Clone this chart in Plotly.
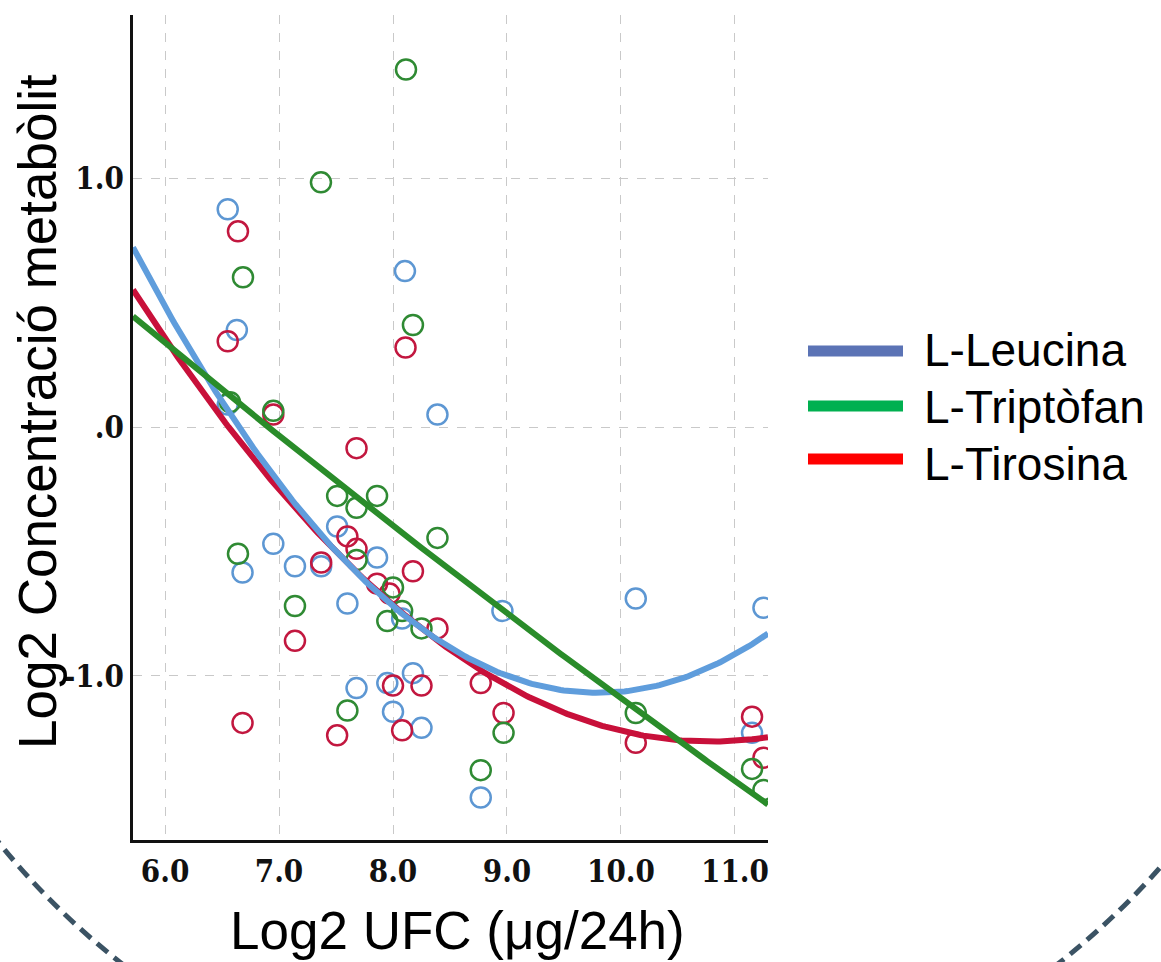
import numpy as np
import plotly.graph_objects as go

# ---------------- data ----------------
leucina_x = [6.55, 8.105, 6.63, 6.55, 8.39, 7.51, 6.95, 6.68, 7.14, 7.37, 7.86, 7.60,
             8.08, 8.96, 10.13, 11.25, 8.175, 7.68, 7.95, 8.00, 8.25, 8.77, 11.15]
leucina_y = [0.876, 0.627, 0.39, 0.09, 0.05, -0.40, -0.47, -0.585, -0.56, -0.56, -0.525, -0.71,
             -0.77, -0.74, -0.69, -0.727, -0.99, -1.05, -1.03, -1.145, -1.21, -1.49, -1.23]

tirosina_x = [6.64, 6.55, 8.11, 6.95, 7.68, 7.60, 7.68, 7.37, 8.175, 7.86, 7.97, 8.39,
              7.14, 8.00, 8.25, 8.77, 8.97, 6.68, 8.08, 7.51, 10.13, 11.15, 11.25]
tirosina_y = [0.787, 0.345, 0.32, 0.05, -0.085, -0.44, -0.49, -0.545, -0.58, -0.63, -0.67, -0.81,
              -0.86, -1.04, -1.04, -1.03, -1.15, -1.19, -1.22, -1.24, -1.27, -1.165, -1.33]

triptofan_x = [8.114, 7.368, 6.684, 8.175, 6.57, 6.95, 7.51, 7.86, 7.68, 8.39, 6.64, 7.68,
               8.00, 7.14, 8.08, 7.95, 8.25, 7.60, 8.97, 8.77, 10.13, 11.15, 11.25]
triptofan_y = [1.438, 0.984, 0.602, 0.41, 0.10, 0.065, -0.277, -0.277, -0.325, -0.446, -0.51,
               -0.535, -0.645, -0.72, -0.74, -0.78, -0.81, -1.14, -1.23, -1.38, -1.15, -1.375, -1.46]

# quadratic fit coefficients (c2, c1, c0)
fit_leucina = [0.10756, -2.1083, 9.262]
fit_tirosina = [0.07084, -1.5279, 6.973]
fit_triptofan = [0.00512, -0.4395, 2.791]

series_names = ["L-Leucina", "L-Triptòfan", "L-Tirosina"]
x_ticks = [6, 7, 8, 9, 10, 11]
x_ticktext = ["6.0", "7.0", "8.0", "9.0", "10.0", "11.0"]
y_ticks = [-1, 0, 1]
y_ticktext = ["-1.0", ".0", "1.0"]
x_range = [5.719, 11.29]
y_range = [-1.661, 1.657]

# ---------------- styles ----------------
C_BLUE_PT, C_RED_PT, C_GREEN_PT = "#5d97d3", "#c2173f", "#2f8a33"
C_BLUE_LN, C_RED_LN, C_GREEN_LN = "#5f9ddc", "#c8103a", "#2a8c2a"
LEG_COLORS = ["#5b73b5", "#00b050", "#ff0000"]

W, H = 1161, 962
L, R, T, B = 133, 768, 15, 840  # plot area in pixels


def px(xp):
    return (xp - L) / (R - L)


def py(yp):
    return (B - yp) / (B - T)


fig = go.Figure()

mk = dict(symbol="circle-open", size=20, line=dict(width=2.5))
for xs, ys, col in [(leucina_x, leucina_y, C_BLUE_PT),
                    (tirosina_x, tirosina_y, C_RED_PT),
                    (triptofan_x, triptofan_y, C_GREEN_PT)]:
    fig.add_trace(go.Scatter(x=xs, y=ys, mode="markers",
                             marker=dict(color=col, **mk), showlegend=False,
                             hoverinfo="x+y"))

xx = np.linspace(x_range[0], x_range[1], 200)
for coef, col, name in [(fit_tirosina, C_RED_LN, series_names[2]),
                        (fit_leucina, C_BLUE_LN, series_names[0]),
                        (fit_triptofan, C_GREEN_LN, series_names[1])]:
    fig.add_trace(go.Scatter(x=xx, y=np.polyval(coef, xx), mode="lines",
                             line=dict(color=col, width=6), name=name,
                             showlegend=False))

grid = dict(showgrid=True, gridcolor="#c9c9c9", gridwidth=1, griddash="dash",
            zeroline=False, showline=True, linecolor="#111111", linewidth=3,
            ticks="", tickfont=dict(family="DejaVu Serif Condensed, Liberation Serif",
                                    size=31, color="#111111", weight="bold"))
fig.update_xaxes(range=x_range, tickvals=x_ticks, ticktext=x_ticktext,
                 ticklabelstandoff=2, **grid)
fig.update_yaxes(range=y_range, tickvals=y_ticks, ticktext=y_ticktext,
                 ticklabelstandoff=0, **grid)

shapes = []
annotations = []
# legend drawn manually (long thick swatches)
leg_y = [351, 406, 459]
txt_y = [350, 407, 464]
for name, col, ly, ty in zip(series_names, LEG_COLORS, leg_y, txt_y):
    shapes.append(dict(type="line", xref="paper", yref="paper",
                       x0=px(808), x1=px(903), y0=py(ly), y1=py(ly),
                       line=dict(color=col, width=11)))
    annotations.append(dict(text=name, xref="paper", yref="paper",
                            x=px(922), y=py(ty), xanchor="left", yanchor="middle",
                            showarrow=False,
                            font=dict(family="Liberation Sans", size=46, color="#000000")))

# axis titles
annotations.append(dict(text="Log2 UFC (μg/24h)", xref="paper", yref="paper",
                        x=px(457), y=py(930), xanchor="center", yanchor="middle",
                        showarrow=False,
                        font=dict(family="Liberation Sans", size=53, color="#000000")))
annotations.append(dict(text="Log2 Concentració metabòlit", xref="paper", yref="paper",
                        x=px(37), y=py(412), xanchor="center", yanchor="middle",
                        textangle=-90, showarrow=False,
                        font=dict(family="Liberation Sans", size=53, color="#000000")))

# decorative dashed circle of the slide
cx, cy, r = 590, 365, 760
shapes.append(dict(type="circle", xref="paper", yref="paper",
                   x0=px(cx - r), x1=px(cx + r), y0=py(cy + r), y1=py(cy - r),
                   line=dict(color="#3b5364", width=5, dash="14px,8px"),
                   layer="below"))

fig.update_layout(width=W, height=H,
                  margin=dict(l=L, r=W - R, t=T, b=H - B),
                  paper_bgcolor="white", plot_bgcolor="white",
                  shapes=shapes, annotations=annotations, showlegend=False)

fig.write_html("out.html")
